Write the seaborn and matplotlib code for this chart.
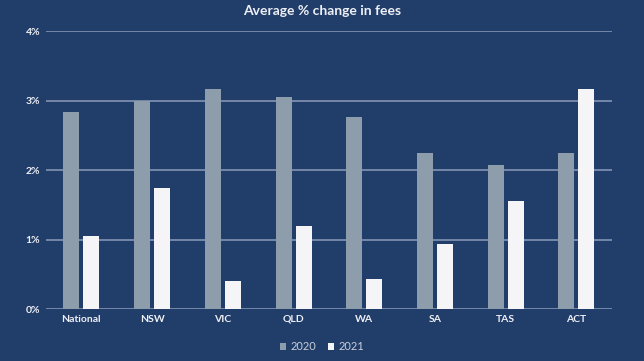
import seaborn as sns
import matplotlib.pyplot as plt
import pandas as pd

regions = ["National", "NSW", "VIC", "QLD", "WA", "SA", "TAS", "ACT"]
fees_2020 = [2.83, 3.00, 3.16, 3.05, 2.77, 2.25, 2.07, 2.25]
fees_2021 = [1.05, 1.74, 0.40, 1.20, 0.43, 0.94, 1.56, 3.16]
years = ["2020", "2021"]

df = pd.DataFrame({
    "Region": regions * 2,
    "Year": [years[0]] * len(regions) + [years[1]] * len(regions),
    "Change": fees_2020 + fees_2021,
})

bg = "#213d6a"
grid_col = "#8b9cba"
txt = "#eef0f5"

sns.set_style("white")
plt.rcParams["font.family"] = ["Lato", "DejaVu Sans"]

fig = plt.figure(figsize=(6.44, 3.61), dpi=100, facecolor=bg)
ax = fig.add_axes([0.0714, 0.1432, 0.8786, 0.7708])
ax.set_facecolor(bg)

sns.barplot(data=df, x="Region", y="Change", hue="Year", order=regions,
            palette={"2020": "#8d9dac", "2021": "#f5f5f7"},
            width=0.565, gap=0.2, saturation=1, linewidth=0,
            ax=ax, legend=True, zorder=3)

ax.set_ylim(0, 4)
ax.set_xlim(-0.5, 7.5)
ax.set_yticks([0, 1, 2, 3, 4])
ax.set_yticklabels([f"{v}%" for v in range(5)])
for v in range(5):
    ax.axhline(v, color=grid_col, lw=1.1, zorder=1)
for s in ax.spines.values():
    s.set_visible(False)
ax.tick_params(axis="both", length=0, colors=txt, labelsize=7.5, pad=4)
for lab in ax.get_xticklabels() + ax.get_yticklabels():
    lab.set_fontweight("bold")
ax.set_xlabel("")
ax.set_ylabel("")

fig.suptitle("Average % change in fees", color=txt, fontsize=10,
             fontweight="bold", y=0.985)

handles, labels = ax.get_legend_handles_labels()
ax.get_legend().remove()
leg = fig.legend(handles, labels, loc="center", bbox_to_anchor=(0.5, 0.04),
                 ncol=2, frameon=False, fontsize=8, handlelength=0.6,
                 handleheight=0.6, handletextpad=0.4, columnspacing=1.0)
for t in leg.get_texts():
    t.set_color("#c9cfda")

fig.savefig("out.png", dpi=100, facecolor=bg)
